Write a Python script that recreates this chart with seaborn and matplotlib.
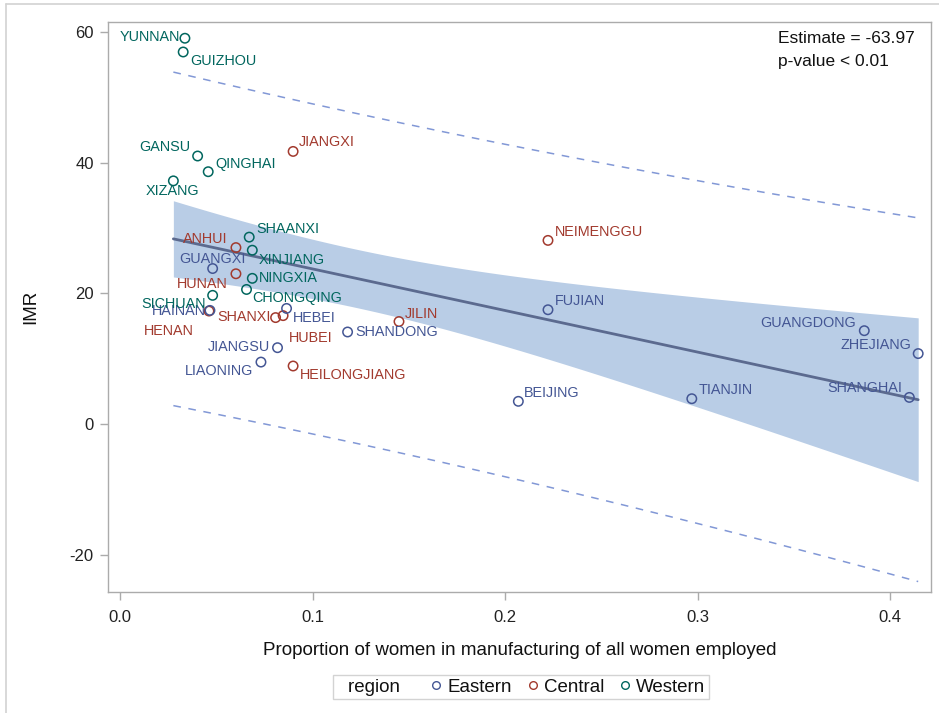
import numpy as np
import pandas as pd
import matplotlib
matplotlib.use("Agg")
import matplotlib.pyplot as plt
from matplotlib.lines import Line2D
import seaborn as sns

# ---- data: province, share of women in manufacturing, infant mortality rate
central_names = ["JIANGXI", "ANHUI", "HUNAN", "SHANXI", "HUBEI", "HENAN",
                 "HEILONGJIANG", "JILIN", "NEIMENGGU"]
central_prop = [0.0899, 0.0602, 0.0602, 0.0808, 0.0847, 0.0462,
                0.0899, 0.1449, 0.2223]
central_imr = [41.7, 27.0, 23.0, 16.3, 16.6, 17.3, 8.9, 15.7, 28.1]

eastern_names = ["GUANGXI", "HAINAN", "HEBEI", "JIANGSU", "LIAONING", "SHANDONG",
                 "FUJIAN", "BEIJING", "TIANJIN", "GUANGDONG", "ZHEJIANG", "SHANGHAI"]
eastern_prop = [0.0481, 0.0467, 0.0865, 0.0818, 0.0732, 0.1182,
                0.2223, 0.2069, 0.2970, 0.3866, 0.4146, 0.4100]
eastern_imr = [23.8, 17.4, 17.7, 11.7, 9.5, 14.1, 17.5, 3.5, 3.9, 14.3, 10.8, 4.1]

western_names = ["YUNNAN", "GUIZHOU", "GANSU", "QINGHAI", "XIZANG", "SHAANXI",
                 "XINJIANG", "NINGXIA", "CHONGQING", "SICHUAN"]
western_prop = [0.0337, 0.0328, 0.0403, 0.0458, 0.0277, 0.0671,
                0.0687, 0.0687, 0.0657, 0.0481]
western_imr = [59.0, 56.9, 41.0, 38.6, 37.2, 28.6, 26.6, 22.3, 20.6, 19.7]

regions = ["Eastern", "Central", "Western"]
x_ticks = [0.0, 0.1, 0.2, 0.3, 0.4]
y_ticks = [-20, 0, 20, 40, 60]
estimate_text = "Estimate = -63.97"
pvalue_text = "p-value < 0.01"

# ---- styling
colors = {"Eastern": "#445694", "Central": "#A23A2E", "Western": "#01665E"}
band_color = "#B9CDE6"
fit_color = "#5B6A8F"
pred_color = "#8298D6"
frame_color = "#ABABAB"
font = "Liberation Sans"

# label placement around each point: (dx px, dy px, horizontal alignment)
label_pos = {
    "YUNNAN": (-5, 1, "right"), "GUIZHOU": (7, -9, "left"),
    "GANSU": (-7, 9, "right"), "QINGHAI": (7, 8, "left"),
    "XIZANG": (-1, -10, "center"), "JIANGXI": (6, 9, "left"),
    "SHAANXI": (7, 8, "left"), "ANHUI": (-8, 9, "right"),
    "GUANGXI": (0, 10, "center"), "XINJIANG": (6, -10, "left"),
    "HUNAN": (-8, -10, "right"), "NINGXIA": (7, 0, "left"),
    "CHONGQING": (6, -9, "left"), "SICHUAN": (-7, -9, "right"),
    "HAINAN": (-4, -1, "right"), "SHANXI": (-5, 1, "right"),
    "HUBEI": (6, -22, "left"), "HEBEI": (6, -10, "left"),
    "HENAN": (-15, -20, "right"), "JIANGSU": (-7, 1, "right"),
    "LIAONING": (-8, -9, "right"), "HEILONGJIANG": (7, -9, "left"),
    "SHANDONG": (8, 0, "left"), "JILIN": (6, 8, "left"),
    "NEIMENGGU": (7, 8, "left"), "FUJIAN": (7, 9, "left"),
    "BEIJING": (6, 8, "left"), "TIANJIN": (7, 9, "left"),
    "GUANGDONG": (-8, 8, "right"), "ZHEJIANG": (-7, 9, "right"),
    "SHANGHAI": (-7, 9, "right"),
}

df = pd.concat([
    pd.DataFrame({"province": central_names, "prop": central_prop,
                  "imr": central_imr, "region": "Central"}),
    pd.DataFrame({"province": eastern_names, "prop": eastern_prop,
                  "imr": eastern_imr, "region": "Eastern"}),
    pd.DataFrame({"province": western_names, "prop": western_prop,
                  "imr": western_imr, "region": "Western"}),
], ignore_index=True)

# ---- ordinary least squares fit with 95% confidence and prediction limits
x = df["prop"].to_numpy()
y = df["imr"].to_numpy()
n = len(x)
slope, intercept = np.polyfit(x, y, 1)
resid = y - (intercept + slope * x)
s = np.sqrt(np.sum(resid ** 2) / (n - 2))
sxx = np.sum((x - x.mean()) ** 2)
t_crit = 2.045  # t(0.975, df=29)
xs = np.linspace(x.min(), x.max(), 200)
fit = intercept + slope * xs
se_mean = s * np.sqrt(1 / n + (xs - x.mean()) ** 2 / sxx)
se_pred = s * np.sqrt(1 + 1 / n + (xs - x.mean()) ** 2 / sxx)
curves = pd.DataFrame({"x": xs, "fit": fit,
                       "clm_lo": fit - t_crit * se_mean, "clm_hi": fit + t_crit * se_mean,
                       "cli_lo": fit - t_crit * se_pred, "cli_hi": fit + t_crit * se_pred})

# ---- figure
sns.set_theme(style="white")
plt.rcParams["font.family"] = [font, "DejaVu Sans"]

fig = plt.figure(figsize=(9.39, 7.13), dpi=100)
ax = fig.add_axes([108.3 / 939, 1 - 591.7 / 713, (930.7 - 108.3) / 939, (591.7 - 21.7) / 713])

ax.fill_between(curves["x"], curves["clm_lo"], curves["clm_hi"],
                color=band_color, linewidth=0, zorder=1)
sns.lineplot(data=curves, x="x", y="fit", color=fit_color, linewidth=2.0, ax=ax, zorder=2)
for col in ["cli_lo", "cli_hi"]:
    sns.lineplot(data=curves, x="x", y=col, color=pred_color, linewidth=1.1,
                 ax=ax, zorder=2).lines[-1].set_dashes([5, 5])

sns.scatterplot(data=df, x="prop", y="imr", hue="region", hue_order=regions,
                palette=colors, s=46, linewidth=1.1, legend=False, ax=ax, zorder=3)
pc = ax.collections[-1]
pc.set_edgecolors(pc.get_facecolors())
pc.set_facecolors("none")

for _, row in df.iterrows():
    dx, dy, ha = label_pos[row["province"]]
    ax.annotate(row["province"], (row["prop"], row["imr"]), xytext=(dx, dy),
                textcoords="offset pixels", ha=ha, va="center", fontsize=10.4,
                color=colors[row["region"]], zorder=4)

ax.text(0.8143, 0.9709, estimate_text, transform=ax.transAxes, ha="left",
        va="center", fontsize=12.5, color="#111111")
ax.text(0.8143, 0.9298, pvalue_text, transform=ax.transAxes, ha="left",
        va="center", fontsize=12.5, color="#111111")

ax.set_xlim(-0.0061, 0.4211)
ax.set_ylim(-25.6, 61.53)
ax.set_xticks(x_ticks)
ax.set_xticklabels([f"{v:.1f}" for v in x_ticks])
ax.set_yticks(y_ticks)
ax.set_yticklabels([str(v) for v in y_ticks])
ax.tick_params(axis="both", which="major", bottom=True, left=True, direction="out",
               length=5.5, width=1, color=frame_color, labelsize=12,
               labelcolor="#222222", pad=5)
ax.tick_params(axis="x", pad=8)
for sp in ax.spines.values():
    sp.set_visible(True)
    sp.set_color(frame_color)
    sp.set_linewidth(1.0)

ax.set_xlabel("Proportion of women in manufacturing of all women employed",
              fontsize=13.5, color="#111111", labelpad=12)
ax.set_ylabel("IMR", fontsize=13.5, color="#111111", labelpad=22)

# legend with inline "region" heading
handles = [Line2D([], [], linestyle="none", label="region   ")]
for r in regions:
    handles.append(Line2D([], [], linestyle="none", marker="o", markersize=5.5,
                          markerfacecolor="none", markeredgecolor=colors[r],
                          markeredgewidth=1.0, label=r))
fig.legend(handles=handles, loc="center", bbox_to_anchor=(521 / 939, 1 - 687 / 713),
           ncol=4, frameon=True, fancybox=False, edgecolor="#C8C8C8", fontsize=13.5,
           handlelength=0, handletextpad=0.6, columnspacing=1.1, borderpad=0.2,
           borderaxespad=0, labelcolor="#111111")

# outer image border
fig.add_artist(Line2D([6 / 939, 6 / 939], [0, 1 - 4 / 713], transform=fig.transFigure,
                      color="#D2D2D2", linewidth=1.2))
fig.add_artist(Line2D([6 / 939, 1], [1 - 4 / 713, 1 - 4 / 713], transform=fig.transFigure,
                      color="#D2D2D2", linewidth=1.2))

fig.savefig("out.png", dpi=100)
